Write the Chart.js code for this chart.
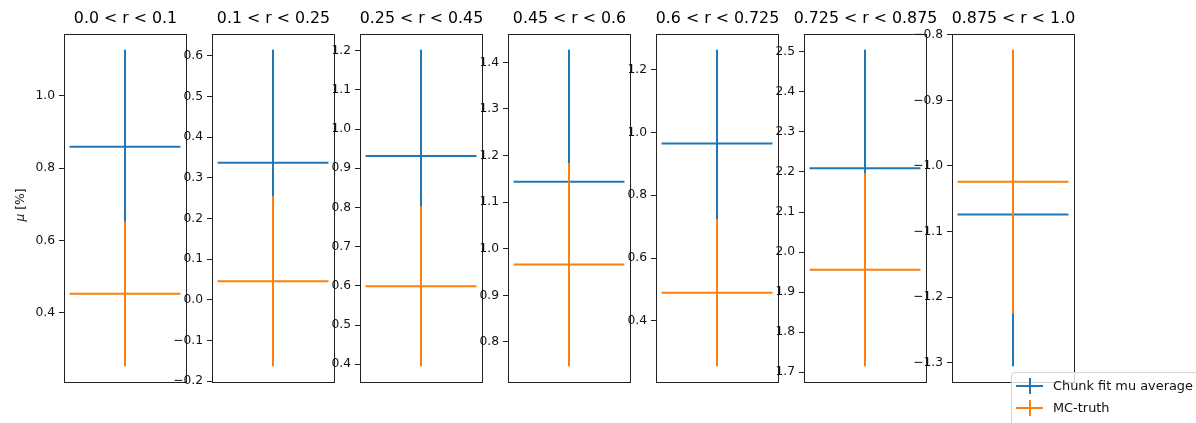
<!DOCTYPE html>
<html>
<head>
<meta charset="utf-8">
<script src="https://cdn.jsdelivr.net/npm/chart.js@4/dist/chart.umd.min.js"></script>
<style>
  html, body { margin: 0; padding: 0; background: #fff; }
  body { width: 1196px; height: 423px; overflow: hidden; position: relative; font-family: "DejaVu Sans", sans-serif; }
  canvas.panel { position: absolute; top: 0; }
  #legend {
    position: absolute; left: 1011px; top: 372px; width: 200px; height: 60px;
    border: 1px solid #d4d4d4; border-radius: 4px; background: rgba(255,255,255,0.8);
    box-sizing: border-box; z-index: 10;
  }
  #legend .row { position: absolute; left: 0; height: 16px; display: block; }
  #legend .key { position: absolute; left: 4px; top: 0; width: 27px; height: 16px; }
  #legend .key::before { content: ""; position: absolute; left: 0; top: 7px; width: 27px; height: 2px; background: var(--c); }
  #legend .key::after { content: ""; position: absolute; left: 12.5px; top: 0; width: 2px; height: 16px; background: var(--c); }
  #legend .txt { position: absolute; left: 41px; top: -1px; font-size: 12.9px; line-height: 18px; color: #111; white-space: nowrap; }
</style>
</head>
<body>
<div id="legend">
  <div class="row" style="top:5px"><span class="key" style="--c:#1f77b4"></span><span class="txt" id="lg0"></span></div>
  <div class="row" style="top:27px"><span class="key" style="--c:#ff7f0e"></span><span class="txt" id="lg1"></span></div>
</div>
<script>
// radial bins
const binLabels = ['0.0 < r < 0.1', '0.1 < r < 0.25', '0.25 < r < 0.45', '0.45 < r < 0.6',
                   '0.6 < r < 0.725', '0.725 < r < 0.875', '0.875 < r < 1.0'];
const binLow  = [0.0, 0.1, 0.25, 0.45, 0.6, 0.725, 0.875];
const binHigh = [0.1, 0.25, 0.45, 0.6, 0.725, 0.875, 1.0];

// chunk fit mu average and its uncertainty [%]
const fitMu  = [0.859, 0.337, 0.931, 1.144, 0.965, 2.209, -1.074];
const fitErr = [0.268, 0.278, 0.271, 0.283, 0.298, 0.296, 0.231];

// MC-truth mu and its uncertainty [%]
const truthMu  = [0.453, 0.046, 0.599, 0.966, 0.490, 1.956, -1.024];
const truthErr = [0.200, 0.209, 0.204, 0.218, 0.234, 0.241, 0.201];

// y tick values per panel
const yTicks = [
  [0.4, 0.6, 0.8, 1.0],
  [-0.2, -0.1, 0.0, 0.1, 0.2, 0.3, 0.4, 0.5, 0.6],
  [0.4, 0.5, 0.6, 0.7, 0.8, 0.9, 1.0, 1.1, 1.2],
  [0.8, 0.9, 1.0, 1.1, 1.2, 1.3, 1.4],
  [0.4, 0.6, 0.8, 1.0, 1.2],
  [1.7, 1.8, 1.9, 2.0, 2.1, 2.2, 2.3, 2.4, 2.5],
  [-1.3, -1.2, -1.1, -1.0, -0.9, -0.8]
];

const seriesNames = ['Chunk fit mu average', 'MC-truth'];
const yLabelSymbol = 'μ', yLabelUnit = ' [%]';

const BLUE = '#1f77b4', ORANGE = '#ff7f0e', INK = '#222', TEXT = '#111';
const FONT = '"DejaVu Sans", sans-serif';

// panel geometry
const BOX_LEFT0 = 64, BOX_STEP = 148, BOX_W = 122, AXIS_W = 64, RIGHT_PAD = 30;
const HEIGHT = 423, TOP = 34, BOTTOM_PAD = 41;

document.getElementById('lg0').textContent = seriesNames[0];
document.getElementById('lg1').textContent = seriesNames[1];

const fmt = v => v.toFixed(1).replace('-', '\u2212');

// box around each axes, the panel title above it, and the y label on the first panel
const framePlugin = {
  id: 'frame',
  afterDraw(chart, args, opts) {
    const { ctx, chartArea: a } = chart;
    ctx.save();
    ctx.strokeStyle = INK;
    ctx.lineWidth = 1;
    ctx.strokeRect(Math.round(a.left) + 0.5, Math.round(a.top) + 0.5,
                   Math.round(a.right - a.left), Math.round(a.bottom - a.top));

    ctx.fillStyle = '#000';
    ctx.font = '15.8px ' + FONT;
    ctx.textAlign = 'center';
    ctx.textBaseline = 'middle';
    ctx.fillText(opts.title, (a.left + a.right) / 2 + 0.5, 18.5);

    if (opts.yLabel) {
      ctx.translate(20.5, 205);
      ctx.rotate(-Math.PI / 2);
      ctx.fillStyle = TEXT;
      ctx.textAlign = 'left';
      const italic = 'italic 12.3px ' + FONT, upright = '12.3px ' + FONT;
      ctx.font = italic;
      const w1 = ctx.measureText(yLabelSymbol).width;
      ctx.font = upright;
      const w2 = ctx.measureText(yLabelUnit).width;
      const x0 = -(w1 + w2) / 2;
      ctx.font = italic;
      ctx.fillText(yLabelSymbol, x0, 0);
      ctx.font = upright;
      ctx.fillText(yLabelUnit, x0 + w1, 0);
    }
    ctx.restore();
  }
};

function crossDatasets(i, mu, err, color, order) {
  const mid = (binLow[i] + binHigh[i]) / 2;
  const common = { borderColor: color, backgroundColor: color, borderWidth: 2, pointRadius: 0,
                   showLine: true, fill: false, tension: 0, order: order };
  return [
    Object.assign({ data: [{ x: binLow[i], y: mu[i] }, { x: binHigh[i], y: mu[i] }] }, common),
    Object.assign({ data: [{ x: mid, y: mu[i] - err[i] }, { x: mid, y: mu[i] + err[i] }] }, common)
  ];
}

for (let i = 0; i < binLabels.length; i++) {
  const boxLeft = BOX_LEFT0 + i * BOX_STEP;
  const canvas = document.createElement('canvas');
  canvas.className = 'panel';
  const w = AXIS_W + BOX_W + RIGHT_PAD;
  canvas.width = w; canvas.height = HEIGHT;
  canvas.style.width = w + 'px'; canvas.style.height = HEIGHT + 'px';
  canvas.style.left = (boxLeft - AXIS_W) + 'px';
  document.body.appendChild(canvas);

  const yLo = Math.min(fitMu[i] - fitErr[i], truthMu[i] - truthErr[i]);
  const yHi = Math.max(fitMu[i] + fitErr[i], truthMu[i] + truthErr[i]);
  const yPad = 0.05 * (yHi - yLo);
  const xPad = 0.05 * (binHigh[i] - binLow[i]);

  new Chart(canvas, {
    type: 'scatter',
    data: {
      datasets: [
        ...crossDatasets(i, fitMu, fitErr, BLUE, 1),
        ...crossDatasets(i, truthMu, truthErr, ORANGE, 0)
      ]
    },
    options: {
      responsive: false,
      animation: false,
      events: [],
      layout: { padding: { top: TOP, left: 0, right: RIGHT_PAD, bottom: BOTTOM_PAD } },
      plugins: {
        legend: { display: false },
        tooltip: { enabled: false },
        title: { display: false },
        frame: { title: binLabels[i], yLabel: i === 0 }
      },
      scales: {
        x: {
          type: 'linear', display: false,
          min: binLow[i] - xPad, max: binHigh[i] + xPad
        },
        y: {
          type: 'linear',
          min: yLo - yPad, max: yHi + yPad,
          afterBuildTicks: s => {
            s.ticks = yTicks[i].filter(v => v >= s.min - 1e-9 && v <= s.max + 1e-9).map(v => ({ value: v }));
          },
          afterFit: s => { s.width = AXIS_W; },
          border: { display: false },
          grid: { drawOnChartArea: false, drawTicks: true, tickLength: 5, color: INK, lineWidth: 1 },
          ticks: {
            padding: 4, color: TEXT, autoSkip: false,
            font: { family: 'DejaVu Sans', size: 12.3 },
            callback: v => fmt(v)
          }
        }
      }
    },
    plugins: [framePlugin]
  });
}
</script>
</body>
</html>
